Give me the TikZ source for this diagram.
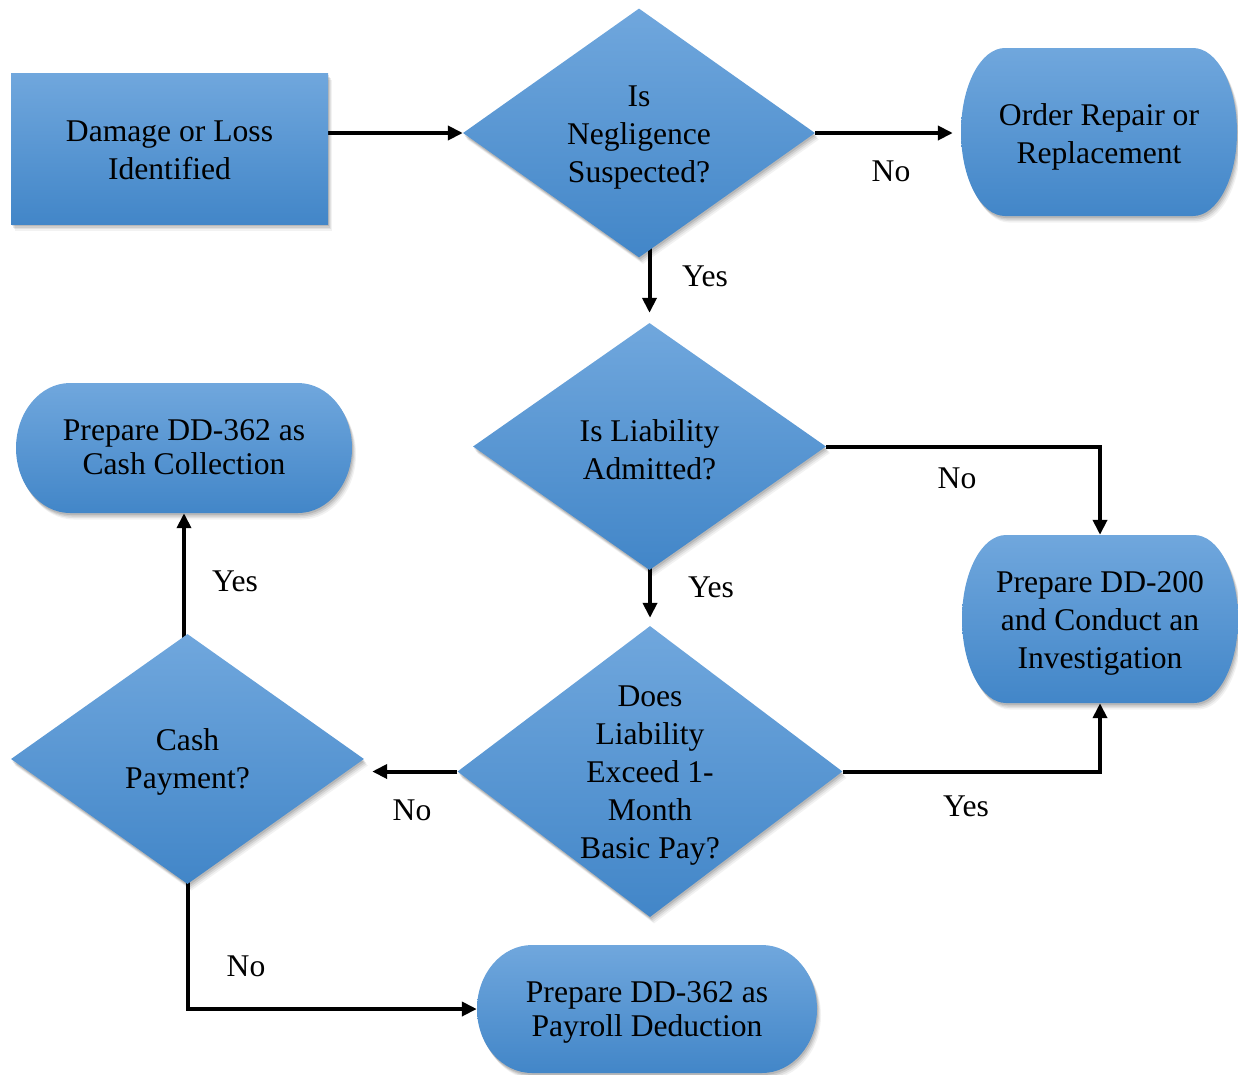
\documentclass[tikz,border=0pt]{standalone}
\usepackage{fontspec}
\setmainfont{Liberation Serif}
\usetikzlibrary{shapes.geometric,arrows.meta,backgrounds,calc}

\definecolor{flowtop}{RGB}{112,167,221}
\definecolor{flowbot}{RGB}{66,134,200}

\tikzset{
  softshadow/.style={
    preaction={fill=black,opacity=.10,transform canvas={xshift=1pt,yshift=-2pt}},
    preaction={fill=black,opacity=.09,transform canvas={xshift=2pt,yshift=-3.5pt}},
    preaction={fill=black,opacity=.07,transform canvas={xshift=3pt,yshift=-5pt}},
    preaction={fill=black,opacity=.05,transform canvas={xshift=4pt,yshift=-6.5pt}}},
  bluefill/.style={softshadow, top color=flowtop, bottom color=flowbot, draw=none},
  process/.style={bluefill, shape=rectangle, inner sep=0pt},
  decision/.style={bluefill, shape=diamond, inner sep=0pt},
  nodetext/.style={align=center, inner sep=0pt},
  termbox/.style={shape=rectangle, inner sep=0pt},
  tighttext/.style={font=\fontsize{31.6}{34}\selectfont},
  flow/.style={line width=4pt, -{Triangle[length=15pt,width=14pt]}},
  answer/.style={inner sep=0pt},
}

% Terminator: rectangle with half-elliptic ends, plus its text.
% #1 text options, #2 name, #3 cx, #4 cy, #5 width, #6 height, #7 end radius,
% #8 text drop, #9 text
\newcommand\flowterm[9][]{%
  \pgfmathsetmacro\termL{#3-#5/2}\pgfmathsetmacro\termR{#3+#5/2}%
  \pgfmathsetmacro\termT{#4-#6/2}\pgfmathsetmacro\termB{#4+#6/2}%
  \pgfmathsetmacro\termLi{\termL+#7}\pgfmathsetmacro\termRi{\termR-#7}%
  \pgfmathsetmacro\termKx{0.5523*#7}\pgfmathsetmacro\termKy{0.5523*#6/2}%
  \path[bluefill] (\termLi,\termT) -- (\termRi,\termT)
    .. controls (\termRi+\termKx,\termT) and (\termR,#4-\termKy) .. (\termR,#4)
    .. controls (\termR,#4+\termKy) and (\termRi+\termKx,\termB) .. (\termRi,\termB)
    -- (\termLi,\termB)
    .. controls (\termLi-\termKx,\termB) and (\termL,#4+\termKy) .. (\termL,#4)
    .. controls (\termL,#4-\termKy) and (\termLi-\termKx,\termT) .. cycle;
  \node[termbox, minimum width=#5pt, minimum height=#6pt] (#2) at (#3,#4) {};%
  \node[nodetext, #1] (#2text) at ($(#2)+(0,#8)$) {#9};%
}

\begin{document}
\begin{tikzpicture}[x=1pt, y=-1pt, font=\fontsize{31.6}{38}\selectfont]
\useasboundingbox (0,0) rectangle (1238,1074);

% process and terminator boxes
\node[process, minimum width=317pt, minimum height=151pt] (start) at (169.5,148.5) {};
\node[nodetext] (starttext) at ($(start)+(0,2)$) {Damage or Loss\\Identified};
\flowterm{ord}{1099}{132}{276}{168}{44}{5}{Order Repair or\\Replacement}
\flowterm[tighttext]{cash}{184}{448}{336}{130}{54}{-1}{Prepare DD-362 as\\Cash Collection}
\flowterm{inv}{1100}{619}{276}{168}{44}{4}{Prepare DD-200\\and Conduct an\\Investigation}
\flowterm[tighttext]{pay}{647}{1009}{340}{128}{55}{3}{Prepare DD-362 as\\Payroll Deduction}

% decisions
\node[decision, minimum width=352pt, minimum height=249pt] (d1) at (639,133) {};
\node[nodetext] (d1text) at ($(d1)+(0,5)$) {Is\\Negligence\\Suspected?};
\node[decision, minimum width=353pt, minimum height=247pt] (d2) at (649.5,446.5) {};
\node[nodetext] (d2text) at ($(d2)+(0,3)$) {Is Liability\\Admitted?};
\node[decision, minimum width=385pt, minimum height=291pt] (d3) at (650,771.5) {};
\node[nodetext] (d3text) at ($(d3)+(0,4)$) {Does\\Liability\\Exceed 1-\\Month\\Basic Pay?};
\node[decision, minimum width=353pt, minimum height=250pt] (d4) at (187.5,759) {};
\node[nodetext] (d4text) at ($(d4)+(0,3)$) {Cash\\Payment?};

% answers on the connectors
\node[answer] (a1) at (891,171) {No};
\node[answer] (a2) at (705,276) {Yes};
\node[answer] (a3) at (957,478) {No};
\node[answer] (a4) at (711,587) {Yes};
\node[answer] (a5) at (966,806) {Yes};
\node[answer] (a6) at (412,810) {No};
\node[answer] (a7) at (235,581) {Yes};
\node[answer] (a8) at (246,966) {No};

% connectors, kept behind the shapes
\begin{pgfonlayer}{background}
\draw[flow] (start.east |- d1.west) -- (d1.west);
\draw[flow, shorten >=8pt] (d1.east) -- (d1.east -| ord.west);
\draw[flow, shorten >=10pt] (d1.center -| d2.north) -- (d2.north);
\draw[flow] (d2.east) -| (inv.north);
\draw[flow, shorten >=8pt] (d2.center -| d3.north) -- (d3.north);
\draw[flow] (d3.east) -| (inv.south);
\draw[flow, shorten >=8pt] (d3.west) -- (d3.west -| d4.east);
\draw[flow] (d4.center -| cash.south) -- (cash.south);
\draw[flow] (d4.center) |- (pay.west);
\end{pgfonlayer}
\end{tikzpicture}
\end{document}
